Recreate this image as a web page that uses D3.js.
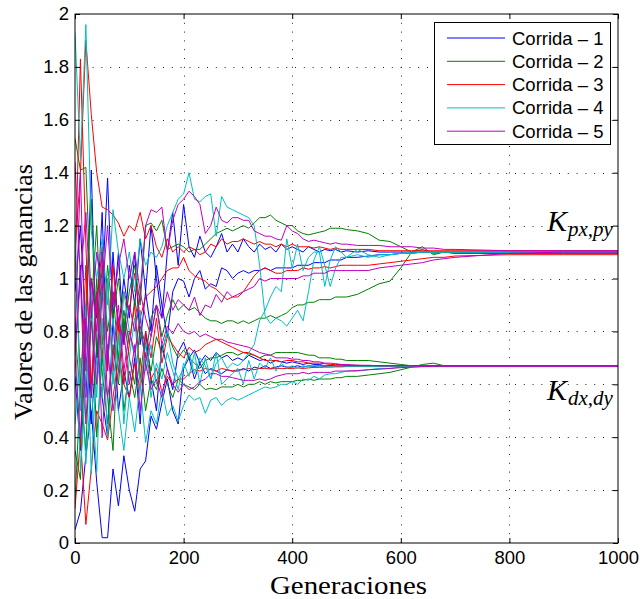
<!DOCTYPE html>
<html><head><meta charset="utf-8">
<script src="https://cdn.jsdelivr.net/npm/d3@7"></script>
<style>body{margin:0;background:#fff}svg{display:block}</style>
</head><body><svg id="c" width="643" height="599"></svg>
<script>
const gens = [0,10,20,30,40,50,60,70,80,90,100,110,120,130,140,150,160,170,180,190,200,210,220,230,240,250,260,270,280,290,300,310,320,330,340,350,360,370,380,390,400,410,420,430,440,450,460,470,480,490,500,520,540,560,580,600,620,640,660,680,700,800,900,1000];
const xTicks = [0,200,400,600,800,1000];
const yTicks = [0,0.2,0.4,0.6,0.8,1,1.2,1.4,1.6,1.8,2];
const runNames = ["Corrida \u2013 1","Corrida \u2013 2","Corrida \u2013 3","Corrida \u2013 4","Corrida \u2013 5"];
const runColors = ["#0000ff","#008000","#ff0000","#00bfbf","#bf00bf"];

// Corrida 1 (blue)
const c1_kpA = [0.95,1.20,0.80,1.41,0.70,0.95,1.38,0.85,1.10,0.75, 1.05,0.90,1.15,0.95,1.20,1.00,0.85,1.10,1.25,1.05, 1.28,1.12,1.08,1.16,1.10,1.08,1.12,1.17,1.10,1.13, 1.10,1.15,1.12,1.10,1.13,1.11,1.12,1.10,1.13,1.11, 1.12,1.11,1.10,1.12,1.11,1.10,1.11,1.105,1.11,1.10, 1.105, 1.10,1.105,1.10,1.10,1.10,1.10,1.10,1.10,1.10,1.10, 1.10,1.10,1.10];
const c1_kpB = [0.70,1.05,0.55,1.00,0.85,1.25,0.65,1.10,0.80,1.00, 0.85,1.10,0.75,0.95,0.80,1.05,0.90,0.78,0.95,1.00, 0.99,0.93,1.00,1.03,0.96,0.98,0.97,1.04,1.03,1.00, 1.02,1.03,1.02,1.03,1.03,1.04,1.03,1.04,1.04,1.04, 1.04,1.05,1.05,1.05,1.06,1.06,1.06,1.07,1.07,1.07, 1.08, 1.08,1.085,1.09,1.09,1.095,1.095,1.10,1.10,1.10,1.10, 1.10,1.10,1.10];
const c1_kdA = [0.05,0.12,0.33,0.50,0.23,0.02,0.02,0.28,0.14,0.33, 0.20,0.12,0.28,0.31,0.48,0.43,0.53,0.62,0.50,0.45, 0.66,0.70,0.62,0.68,0.64,0.66,0.65,0.64,0.655,0.65, 0.65,0.66,0.65,0.665,0.66,0.67,0.66,0.665,0.67,0.665, 0.665,0.67,0.665,0.67,0.668,0.67,0.668,0.67,0.67,0.67, 0.67, 0.67,0.67,0.67,0.67,0.67,0.67,0.67,0.67,0.67,0.67, 0.67,0.67,0.67];
const c1_kdB = [0.63,0.35,0.90,0.45,0.75,0.55,0.40,0.85,0.50,0.65, 0.55,0.70,0.45,0.80,0.62,0.50,0.75,0.66,0.58,0.72, 0.76,0.70,0.73,0.68,0.71,0.69,0.72,0.70,0.71,0.69, 0.70,0.69,0.71,0.70,0.69,0.695,0.68,0.69,0.685,0.68, 0.685,0.68,0.675,0.68,0.675,0.675,0.67,0.672,0.67,0.67, 0.67, 0.67,0.67,0.67,0.67,0.67,0.67,0.67,0.67,0.67,0.67, 0.67,0.67,0.67];

// Corrida 2 (green)
const c2_kpA = [1.53,1.41,1.42,0.90,1.20,0.75,1.05,0.85,1.00,0.80, 0.95,1.05,0.90,1.20,1.21,1.18,1.22,1.11,1.12,1.13, 1.12,1.10,1.11,1.11,1.13,1.15,1.17,1.18,1.19,1.18, 1.19,1.20,1.19,1.21,1.23,1.23,1.24,1.22,1.21,1.20, 1.20,1.18,1.17,1.165,1.17,1.175,1.18,1.19,1.19,1.19, 1.185, 1.18,1.17,1.145,1.14,1.12,1.10,1.11,1.095,1.10,1.095, 1.095,1.095,1.095];
const c2_kpB = [1.15,0.60,0.90,1.30,0.70,1.05,0.80,0.95,0.70,0.88, 0.75,0.92,0.80,0.70,0.85,0.90,0.78,0.86,0.92,0.88, 0.90,0.88,0.89,0.87,0.85,0.84,0.84,0.83,0.84,0.84, 0.83,0.84,0.83,0.84,0.85,0.85,0.86,0.85,0.86,0.87, 0.89,0.90,0.90,0.91,0.91,0.92,0.92,0.92,0.93,0.93, 0.93, 0.94,0.96,0.98,0.99,1.04,1.10,1.12,1.09,1.10,1.095, 1.095,1.095,1.095];
const c2_kdA = [0.35,0.24,0.80,0.55,1.00,0.65,0.45,0.75,0.60,0.85, 0.70,0.60,0.82,0.75,0.65,0.78,0.72,0.80,0.74,0.70, 0.73,0.70,0.68,0.66,0.69,0.70,0.70,0.71,0.72,0.72, 0.71,0.72,0.715,0.71,0.70,0.71,0.71,0.72,0.72,0.72, 0.72,0.72,0.715,0.71,0.71,0.70,0.70,0.70,0.695,0.695, 0.69, 0.69,0.69,0.685,0.68,0.675,0.67,0.67,0.67,0.67,0.67, 0.67,0.67,0.67];
const c2_kdB = [0.15,0.60,0.35,0.90,0.40,0.70,0.55,0.35,0.80,0.50, 0.65,0.55,0.70,0.50,0.62,0.58,0.66,0.60,0.55,0.62, 0.60,0.59,0.58,0.60,0.58,0.585,0.58,0.59,0.59,0.59, 0.60,0.59,0.60,0.60,0.61,0.60,0.61,0.605,0.61,0.61, 0.61,0.615,0.615,0.62,0.615,0.62,0.62,0.62,0.625,0.625, 0.63, 0.63,0.635,0.64,0.645,0.655,0.665,0.675,0.68,0.67,0.67, 0.67,0.67,0.67];

// Corrida 3 (red)
const c3_kpA = [1.10,1.40,1.90,1.62,1.40,1.27,1.26,1.24,1.21,1.16, 1.20,1.18,1.25,1.15,1.20,1.12,1.08,1.15,1.10,1.12, 1.10,1.12,1.11,1.09,1.10,1.13,1.12,1.15,1.13,1.14, 1.14,1.15,1.14,1.13,1.14,1.13,1.13,1.12,1.13,1.12, 1.13,1.12,1.12,1.12,1.115,1.12,1.115,1.11,1.115,1.11, 1.11, 1.11,1.11,1.105,1.105,1.105,1.105,1.105,1.105,1.105,1.105, 1.105,1.105,1.105];
const c3_kpB = [1.00,1.83,1.13,0.55,0.90,1.12,0.65,1.05,0.80,0.95, 0.88,1.02,0.85,0.93,0.95,0.97,1.00,1.03,1.04,1.04, 1.08,1.03,1.01,1.00,0.99,0.97,0.96,0.94,0.92,0.93, 0.93,0.95,0.98,1.01,1.03,1.04,1.03,1.02,1.02,1.03, 1.03,1.03,1.04,1.035,1.04,1.04,1.045,1.04,1.045,1.05, 1.05, 1.05,1.05,1.055,1.06,1.065,1.07,1.075,1.08,1.08,1.085, 1.09,1.09,1.09];
const c3_kdA = [0.80,0.55,1.05,0.60,0.95,0.70,1.00,0.65,0.85,0.60, 0.75,0.90,0.62,0.80,0.70,0.85,0.68,0.78,0.75,0.72, 0.70,0.74,0.72,0.73,0.75,0.76,0.77,0.76,0.75,0.74, 0.73,0.72,0.72,0.71,0.70,0.69,0.69,0.69,0.685,0.69, 0.69,0.685,0.685,0.68,0.68,0.68,0.678,0.675,0.675,0.675, 0.672, 0.672,0.67,0.67,0.67,0.67,0.67,0.67,0.67,0.67,0.67, 0.67,0.67,0.67];
const c3_kdB = [0.13,0.40,0.07,0.28,0.50,0.45,0.39,0.55,0.70,0.60, 0.55,0.68,0.58,0.72,0.62,0.66,0.57,0.63,0.60,0.62, 0.62,0.64,0.655,0.65,0.66,0.655,0.65,0.66,0.655,0.65, 0.655,0.655,0.66,0.655,0.66,0.66,0.658,0.66,0.66,0.66, 0.66,0.662,0.66,0.662,0.664,0.664,0.665,0.665,0.666,0.666, 0.667, 0.667,0.667,0.667,0.667,0.667,0.667,0.667,0.667,0.667,0.667, 0.667,0.667,0.667];

// Corrida 4 (cyan)
const c4_kpA = [1.93,1.45,1.96,1.18,1.00,1.15,0.90,1.26,1.10,1.00, 1.10,0.95,1.15,1.05,1.10,1.08,1.12,1.20,1.25,1.30, 1.32,1.40,1.30,1.29,1.31,1.32,1.16,1.31,1.27,1.26, 1.25,1.24,1.23,1.20,1.05,0.86,0.83,0.85,0.84,0.82, 0.85,0.88,0.84,0.95,1.07,1.12,1.05,0.97,1.04,1.08, 1.08, 1.09,1.08,1.09,1.09,1.095,1.095,1.10,1.10,1.10,1.10, 1.10,1.10,1.10];
const c4_kpB = [0.85,0.27,0.60,0.95,0.55,1.00,0.70,0.85,0.65,0.95, 0.80,0.70,0.88,0.65,0.75,0.60,0.72,0.80,0.68,0.62, 0.66,0.72,0.64,0.70,0.67,0.62,0.68,0.70,0.66,0.68, 0.67,0.69,0.72,0.75,0.84,0.88,0.93,0.97,0.95,1.15, 1.04,1.13,1.03,1.08,1.10,1.10,0.97,1.07,1.12,1.10, 1.08, 1.11,1.09,1.08,1.09,1.095,1.10,1.10,1.10,1.10,1.10, 1.10,1.10,1.10];
const c4_kdA = [0.45,0.70,0.30,0.60,0.27,0.85,0.40,0.65,0.50,0.35, 0.55,0.42,0.60,0.38,0.50,0.45,0.58,0.48,0.52,0.46, 0.52,0.56,0.54,0.55,0.49,0.54,0.55,0.52,0.54,0.55, 0.54,0.55,0.56,0.57,0.58,0.59,0.585,0.59,0.60,0.60, 0.61,0.60,0.62,0.615,0.63,0.62,0.635,0.64,0.64,0.645, 0.65, 0.65,0.655,0.66,0.66,0.665,0.665,0.667,0.667,0.667,0.667, 0.667,0.667,0.667];
const c4_kdB = [1.20,0.50,0.90,0.26,0.70,0.55,1.00,0.60,0.80,0.45, 0.70,0.85,0.60,0.75,0.55,0.68,0.62,0.72,0.65,0.58, 0.68,0.63,0.72,0.60,0.70,0.62,0.72,0.60,0.62,0.64, 0.66,0.60,0.69,0.62,0.68,0.66,0.70,0.65,0.68,0.66, 0.67,0.66,0.67,0.665,0.67,0.668,0.67,0.668,0.67,0.67, 0.668, 0.668,0.668,0.668,0.668,0.668,0.668,0.668,0.668,0.668,0.668, 0.668,0.668,0.668];

// Corrida 5 (magenta)
const c5_kpA = [1.44,1.00,1.25,0.85,1.10,0.95,1.20,0.90,1.05,1.15, 1.00,1.10,0.95,1.20,1.26,1.25,1.27,1.10,1.22,1.28, 1.30,1.33,1.31,1.28,1.17,1.20,1.27,1.22,1.21,1.23, 1.23,1.22,1.22,1.18,1.17,1.16,1.16,1.15,1.145,1.20, 1.18,1.17,1.15,1.14,1.145,1.14,1.135,1.13,1.135,1.13, 1.13, 1.125,1.125,1.125,1.12,1.12,1.12,1.115,1.115,1.11,1.11, 1.105,1.105,1.105];
const c5_kpB = [0.75,1.40,0.65,1.00,0.80,1.10,0.70,0.95,0.85,0.75, 0.90,0.80,0.95,0.85,0.78,0.90,0.85,0.95,0.88,0.92, 0.90,0.88,0.93,0.86,0.90,0.89,0.94,0.91,0.95,0.93, 0.94,0.95,0.96,0.97,1.00,0.99,1.00,1.00,1.00,1.00, 1.00,1.00,1.01,1.01,1.02,1.02,1.02,1.03,1.03,1.03, 1.03, 1.03,1.03,1.04,1.045,1.05,1.055,1.06,1.07,1.075,1.08, 1.095,1.10,1.10];
const c5_kdA = [0.72,1.00,0.45,0.84,0.60,0.95,0.55,0.70,0.90,0.65, 0.80,0.72,0.85,0.68,0.78,0.90,0.75,0.82,0.79,0.83, 0.80,0.79,0.80,0.78,0.79,0.78,0.77,0.77,0.76,0.755, 0.75,0.745,0.74,0.73,0.72,0.715,0.71,0.70,0.70,0.70, 0.695,0.695,0.69,0.69,0.685,0.685,0.68,0.68,0.678,0.675, 0.675, 0.672,0.672,0.67,0.67,0.67,0.67,0.67,0.67,0.67,0.67, 0.67,0.67,0.67];
const c5_kdB = [0.70,0.40,0.85,0.55,0.95,0.40,0.75,0.50,0.65,0.80, 0.60,0.75,0.50,0.68,0.58,0.62,0.55,0.66,0.60,0.57, 0.60,0.58,0.59,0.61,0.62,0.64,0.64,0.63,0.63,0.625, 0.62,0.615,0.615,0.615,0.62,0.615,0.62,0.63,0.635,0.64, 0.64,0.64,0.645,0.64,0.645,0.645,0.645,0.645,0.65,0.65, 0.65, 0.652,0.655,0.657,0.66,0.663,0.665,0.667,0.668,0.668,0.668, 0.668,0.668,0.668];

const runs = [
  [c1_kpA,c1_kpB,c1_kdA,c1_kdB],
  [c2_kpA,c2_kpB,c2_kdA,c2_kdB],
  [c3_kpA,c3_kpB,c3_kdA,c3_kdB],
  [c4_kpA,c4_kpB,c4_kdA,c4_kdB],
  [c5_kpA,c5_kpB,c5_kdA,c5_kdB]
];

const L = 75, R = 618, T = 14, B = 543;
const svg = d3.select("#c");
const x = d3.scaleLinear().domain([0,1000]).range([L,R]);
const y = d3.scaleLinear().domain([0,2]).range([B,T]);
const sans = "'Liberation Sans', Arial, Helvetica, sans-serif";
const serif = "'Liberation Serif', 'Times New Roman', serif";

svg.append("rect").attr("width",643).attr("height",599).attr("fill","#fff");
svg.append("defs").append("clipPath").attr("id","clip")
  .append("rect").attr("x",L).attr("y",T).attr("width",R-L).attr("height",B-T);

// grid
const grid = svg.append("g").attr("stroke","#222").attr("stroke-width",1).attr("stroke-dasharray","1,7.8");
xTicks.filter(d=>d>0&&d<1000).forEach(d=>{
  grid.append("line").attr("x1",Math.round(x(d))+0.5).attr("x2",Math.round(x(d))+0.5).attr("y1",B).attr("y2",T);
});
yTicks.filter(d=>d>0&&d<2).forEach(d=>{
  grid.append("line").attr("y1",Math.round(y(d))+0.5).attr("y2",Math.round(y(d))+0.5).attr("x1",L).attr("x2",R);
});

// lines
const line = d3.line().x((d,i)=>x(gens[i])).y(d=>y(d));
const plot = svg.append("g").attr("clip-path","url(#clip)");
runs.forEach((series,ri)=>{
  series.forEach(vals=>{
    plot.append("path").attr("d",line(vals)).attr("fill","none")
      .attr("stroke",runColors[ri]).attr("stroke-width",1).attr("stroke-linejoin","round");
  });
});

// axes (MATLAB style, ticks inside, box)
const axB = d3.axisBottom(x).tickValues(xTicks).tickSize(-5).tickPadding(8).tickFormat(d3.format("d"));
const axT = d3.axisTop(x).tickValues(xTicks).tickSize(-5).tickFormat("");
const axL = d3.axisLeft(y).tickValues(yTicks).tickSize(-5).tickPadding(6).tickFormat(d=>String(d));
const axR = d3.axisRight(y).tickValues(yTicks).tickSize(-5).tickFormat("");
[[axB,`translate(0,${B})`],[axT,`translate(0,${T})`],[axL,`translate(${L},0)`],[axR,`translate(${R},0)`]].forEach(([a,t])=>{
  const g = svg.append("g").attr("transform",t).call(a);
  g.select(".domain").remove();
  g.selectAll("line").attr("stroke","#000");
  g.selectAll("text").attr("fill","#000").attr("font-family",sans).attr("font-size","18.5px");
});
svg.append("rect").attr("x",L).attr("y",T).attr("width",R-L).attr("height",B-T)
  .attr("fill","none").attr("stroke","#000").attr("stroke-width",1);

// axis titles
svg.append("text").attr("x",(L+R)/2+2).attr("y",594).attr("text-anchor","middle")
  .attr("font-family",serif).attr("font-size","25px").attr("textLength",157).attr("lengthAdjust","spacingAndGlyphs")
  .text("Generaciones");
svg.append("text").attr("transform",`translate(32,292) rotate(-90)`).attr("text-anchor","middle")
  .attr("font-family",serif).attr("font-size","26px").attr("textLength",256).attr("lengthAdjust","spacingAndGlyphs")
  .text("Valores de las ganancias");

// annotations
const k1 = svg.append("text").attr("x",547).attr("y",231).attr("font-family",serif).attr("font-style","italic").attr("font-size","30px");
k1.append("tspan").text("K");
k1.append("tspan").attr("font-size","21px").attr("dy",5).attr("dx",1).text("px,py");
const k2 = svg.append("text").attr("x",547).attr("y",400).attr("font-family",serif).attr("font-style","italic").attr("font-size","30px");
k2.append("tspan").text("K");
k2.append("tspan").attr("font-size","21px").attr("dy",5).attr("dx",1).text("dx,dy");

// legend
const lg = svg.append("g");
lg.append("rect").attr("x",434.5).attr("y",22.5).attr("width",176).attr("height",122).attr("fill","#fff").attr("stroke","#000").attr("stroke-width",1);
runNames.forEach((n,i)=>{
  const yy = 38 + i*23.3;
  lg.append("line").attr("x1",447).attr("x2",505).attr("y1",yy).attr("y2",yy).attr("stroke",runColors[i]).attr("stroke-width",1);
  lg.append("text").attr("x",512).attr("y",yy+6.5).attr("font-family",sans).attr("font-size","18.5px").attr("fill","#000").text(n);
});
</script>
</body></html>
